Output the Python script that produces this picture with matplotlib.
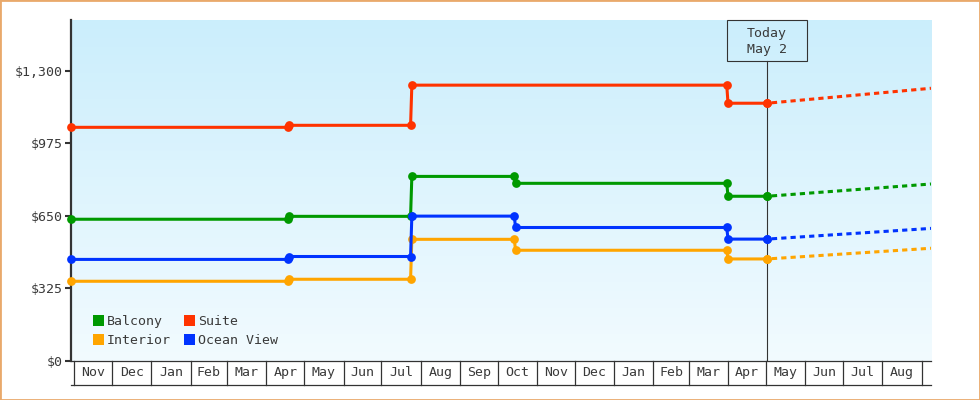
import numpy as np
import matplotlib
matplotlib.use('Agg')
import matplotlib.pyplot as plt
import matplotlib.dates as mdates
from matplotlib.patches import Patch, Rectangle

# ---------------- data ----------------
x_start = '2023-10-29T12'
x_end = '2025-09-08T12'
today = '2025-05-02'

suite_dates = [x_start, '2024-04-18', '2024-04-19', '2024-07-24', '2024-07-25',
               '2025-03-31', '2025-04-01', today]
suite_prices = [1046, 1046, 1055, 1055, 1235, 1235, 1154, 1154]

step_dates = [x_start, '2024-04-18', '2024-04-19', '2024-07-24', '2024-07-25',
              '2024-10-14', '2024-10-15', '2025-03-31', '2025-04-01', today]
balcony_prices = [634, 634, 647, 647, 826, 826, 795, 795, 737, 737]
interior_prices = [356, 356, 365, 365, 544, 544, 495, 495, 456, 456]
ocean_prices = [454, 454, 467, 467, 648, 648, 597, 597, 545, 545]

forecast_end = {'Suite': 1221, 'Balcony': 792, 'Interior': 504, 'Ocean View': 593}

month_labels = ['Nov', 'Dec', 'Jan', 'Feb', 'Mar', 'Apr', 'May', 'Jun', 'Jul', 'Aug',
                'Sep', 'Oct', 'Nov', 'Dec', 'Jan', 'Feb', 'Mar', 'Apr', 'May', 'Jun',
                'Jul', 'Aug']
y_ticks = [0, 325, 650, 975, 1300]
y_tick_labels = ['$0', '$325', '$650', '$975', '$1,300']

colors = {'Balcony': '#009900', 'Interior': '#FFA500', 'Suite': '#FF3300',
          'Ocean View': '#0033FF'}

def dn(lst):
    return mdates.date2num(np.array(lst, dtype='datetime64[h]'))

FONT = 'DejaVu Sans Mono'
FS = 9.5
TXT = '#3a3a3a'
plt.rcParams['font.family'] = [FONT, 'DejaVu Sans']

W, H = 980, 400
fig = plt.figure(figsize=(9.8, 4.0), dpi=100)
fig.patch.set_facecolor('white')
ax_l, ax_r, ax_t, ax_b = 71, 931, 20, 360.7
ax = fig.add_axes([ax_l / W, (H - ax_b) / H, (ax_r - ax_l) / W, (ax_b - ax_t) / H])

# gradient background
top = np.array([203, 238, 252]) / 255.0
bot = np.array([242, 251, 255]) / 255.0
t = np.linspace(0, 1, 256)[:, None]
grad = (top[None, :] * (1 - t) + bot[None, :] * t)[:, None, :]
ax.imshow(grad, extent=[0, 1, 0, 1], transform=ax.transAxes, aspect='auto',
          zorder=0, interpolation='bilinear')

xmin, xmax = dn([x_start])[0], dn([x_end])[0]
ymin, ymax = 0, 1527

# series
series = [
    ('Suite', suite_dates, suite_prices),
    ('Balcony', step_dates, balcony_prices),
    ('Interior', step_dates, interior_prices),
    ('Ocean View', step_dates, ocean_prices),
]
lw = 2.2
for name, d, p in series:
    c = colors[name]
    xs = dn(d)
    ax.plot(xs, p, color=c, lw=lw, marker='o', ms=6.3, mew=0, zorder=3,
            clip_on=False, solid_joinstyle='miter')
    fx = dn([today, x_end])
    ax.plot(fx, [p[-1], forecast_end[name]], color=c, lw=lw,
            linestyle=(1.5, (1.7, 1.35)), zorder=2)
    ax.plot([fx[0]], [p[-1]], color=c, marker='o', ms=6.3, mew=0, zorder=4)

ax.set_xlim(xmin, xmax)
ax.set_ylim(ymin, ymax)

# spines
for s in ['top', 'right']:
    ax.spines[s].set_visible(False)
ax.spines['left'].set_color('#333333')
ax.spines['left'].set_linewidth(1.6)
ax.spines['bottom'].set_color('#333333')
ax.spines['bottom'].set_linewidth(0.9)

ax.set_yticks(y_ticks)
ax.set_yticklabels(y_tick_labels, fontsize=FS, color=TXT, family=FONT)
ax.tick_params(axis='y', length=4.0, width=1.5, color='#333333', pad=2.0)
ax.set_xticks([])

# month boxes under the axis
month_starts = dn(np.arange('2023-11', '2025-10', dtype='datetime64[M]').astype('datetime64[h]').astype(str))
xtr = ax.get_xaxis_transform()
box_bot = -(385 - ax_b) / (ax_b - ax_t)
label_y = -(372.7 - ax_b) / (ax_b - ax_t)
for m in month_starts:
    ax.plot([m, m], [0, box_bot], color='#333333', lw=0.9, transform=xtr,
            clip_on=False, zorder=5)
ax.plot([0, 1], [box_bot, box_bot], color='#333333', lw=0.9,
        transform=ax.transAxes, clip_on=False)
for i, lab in enumerate(month_labels):
    xc = 0.5 * (month_starts[i] + month_starts[i + 1])
    ax.text(xc, label_y, lab, transform=xtr, ha='center', va='center',
            fontsize=FS, color=TXT, family=FONT, clip_on=False)

# today marker
tx = dn([today])[0]
box_low = (ax_b - 60.7) / (ax_b - ax_t)
ax.plot([tx, tx], [0, box_low], color='#333333', lw=0.8, transform=xtr, zorder=2.5)
px_per_day = (ax_r - ax_l) / (xmax - xmin)
half_w = 40 / px_per_day
ax.add_patch(Rectangle((tx - half_w, box_low), 2 * half_w, 1 - box_low,
                       transform=xtr, fill=False, edgecolor='#333333', lw=0.8,
                       clip_on=False, zorder=5))
ax.text(tx, (ax_b - 41.3) / (ax_b - ax_t), 'Today\nMay 2', transform=xtr,
        ha='center', va='center', fontsize=FS, color=TXT, family=FONT,
        linespacing=1.3, zorder=6)

# legend
handles = [Patch(facecolor=colors[n], edgecolor='none') for n in
           ['Balcony', 'Interior', 'Suite', 'Ocean View']]
leg = ax.legend(handles, ['Balcony', 'Interior', 'Suite', 'Ocean View'], ncol=2,
                loc='lower left',
                bbox_to_anchor=((93 - ax_l) / (ax_r - ax_l), (ax_b - 347) / (ax_b - ax_t)),
                frameon=False, borderpad=0, borderaxespad=0, handlelength=0.85,
                handleheight=0.85, handletextpad=0.2, columnspacing=1.0,
                labelspacing=0.45, prop={'family': FONT, 'size': FS})
for txt in leg.get_texts():
    txt.set_color(TXT)

# outer border
fig.add_artist(Rectangle((0, 0), 1, 1, transform=fig.transFigure, fill=False,
                         edgecolor='#E9A96B', lw=2.0))

fig.savefig('out.png', dpi=100)
